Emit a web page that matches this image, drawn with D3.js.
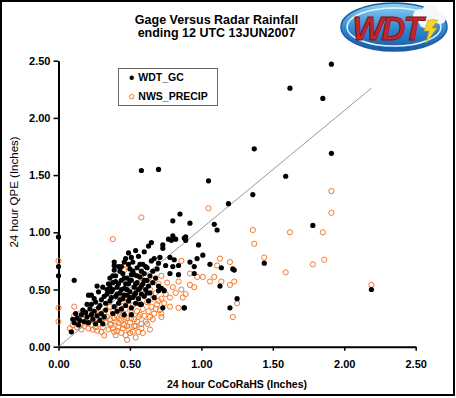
<!DOCTYPE html>
<html>
<head>
<meta charset="utf-8">
<script src="https://cdn.jsdelivr.net/npm/d3@7"></script>
<style>
  html, body { margin: 0; padding: 0; background: #fff; }
  svg { display: block; font-family: Arial, 'Liberation Sans', sans-serif; }
</style>
</head>
<body>
<div id="chart"></div>
<script>
const titleLines = ['Gage Versus Radar Rainfall', 'ending 12 UTC 13JUN2007'];
const xTicks = [0, 0.5, 1, 1.5, 2, 2.5];
const yTicks = [0, 0.5, 1, 1.5, 2, 2.5];
const xTitle = '24 hour CoCoRaHS (Inches)';
const yTitle = '24 hour QPE (Inches)';
const seriesNames = ['WDT_GC', 'NWS_PRECIP'];
const fitLine = [[0, 0], [2.19, 2.26]];

// [CoCoRaHS, QPE] pairs
const wdtGC = [
  [1.91, 2.47], [1.62, 2.26], [1.85, 2.17], [1.37, 1.73], [1.91, 1.69], [1.59, 1.49], [1.36, 1.33],
  [0.58, 1.54], [0.70, 1.55], [1.05, 1.45], [1.19, 1.25], [1.78, 1.06], [1.44, 0.73], [2.19, 0.50],
  [1.22, 0.68], [1.23, 0.67], [1.25, 0.42], [1.20, 0.34],
  [0.92, 1.08], [1.09, 1.07], [1.11, 1.02], [0.89, 0.96], [0.85, 1.16], [0.80, 1.10], [1.01, 0.80],
  [0.97, 0.77], [0.92, 0.74], [0.95, 0.70], [1.06, 0.72], [1.14, 0.69], [0.95, 0.64], [1.13, 0.53],
  [0.88, 0.34], [0.98, 0.89],
  [0.65, 0.91], [0.77, 0.94], [0.80, 0.97], [0.82, 0.94], [0.79, 0.93], [0.88, 0.95], [0.89, 0.93],
  [0.73, 0.89], [0.73, 0.86], [0.49, 0.82], [0.67, 0.77], [0.71, 0.78], [0.78, 0.78], [0.81, 0.76],
  [0.84, 0.71], [0.80, 0.70], [0.75, 0.71], [0.78, 0.64], [0.84, 0.63], [0.66, 0.66], [0.70, 0.73],
  [0.72, 0.51], [0.70, 0.49], [0.74, 0.49], [0.73, 0.34], [0.88, 0.34], [0.57, 0.37], [0.51, 0.28],
  [0, 0.96], [0, 0.70], [0, 0.62], [0.11, 0.58], [0.09, 0.13], [0.39, 0.74], [0.39, 0.71],
  [0.38, 0.62], [0.57, 0.72], [0.58, 0.66],
  [0.11, 0.21], [0.13, 0.25], [0.15, 0.23], [0.16, 0.28], [0.18, 0.22], [0.19, 0.30], [0.20, 0.26],
  [0.21, 0.21], [0.22, 0.33], [0.23, 0.28], [0.24, 0.24], [0.25, 0.31], [0.26, 0.20], [0.27, 0.27],
  [0.28, 0.34], [0.29, 0.23], [0.30, 0.29], [0.31, 0.20], [0.32, 0.26], [0.33, 0.32], [0.14, 0.19],
  [0.17, 0.32], [0.12, 0.29], [0.10, 0.24],
  [0.21, 0.45], [0.23, 0.45], [0.26, 0.39], [0.23, 0.37], [0.20, 0.37], [0.25, 0.42], [0.28, 0.48],
  [0.30, 0.41], [0.31, 0.52], [0.33, 0.38], [0.34, 0.46], [0.29, 0.36], [0.32, 0.44], [0.35, 0.55],
  [0.27, 0.53],
  [0.36, 0.40], [0.37, 0.48], [0.38, 0.56], [0.39, 0.35], [0.40, 0.44], [0.40, 0.62], [0.41, 0.52],
  [0.42, 0.38], [0.42, 0.70], [0.43, 0.47], [0.44, 0.58], [0.44, 0.33], [0.45, 0.42], [0.45, 0.64],
  [0.46, 0.51], [0.47, 0.36], [0.47, 0.77], [0.48, 0.45], [0.48, 0.60], [0.49, 0.55], [0.49, 0.40],
  [0.50, 0.68], [0.50, 0.48], [0.51, 0.34], [0.51, 0.58], [0.52, 0.43], [0.52, 0.74], [0.53, 0.52],
  [0.53, 0.63], [0.54, 0.38], [0.54, 0.47], [0.55, 0.56], [0.55, 0.69], [0.56, 0.42], [0.56, 0.79],
  [0.57, 0.51], [0.57, 0.61], [0.58, 0.46], [0.58, 0.37], [0.59, 0.55], [0.59, 0.72], [0.60, 0.64],
  [0.60, 0.44], [0.61, 0.50], [0.62, 0.58], [0.62, 0.69], [0.63, 0.40], [0.63, 0.53], [0.64, 0.62],
  [0.64, 0.47], [0.65, 0.75], [0.66, 0.56], [0.67, 0.43], [0.68, 0.60], [0.69, 0.68], [0.70, 0.53],
  [0.38, 0.29], [0.41, 0.31], [0.46, 0.28], [0.52, 0.66], [0.43, 0.66], [0.49, 0.72], [0.39, 0.67],
  [0.36, 0.60],
  [0.34, 0.50], [0.36, 0.52], [0.37, 0.43], [0.38, 0.50], [0.40, 0.57], [0.41, 0.46], [0.42, 0.55],
  [0.43, 0.41], [0.44, 0.50], [0.46, 0.45], [0.46, 0.60], [0.47, 0.55], [0.48, 0.50], [0.50, 0.58],
  [0.50, 0.43], [0.51, 0.63], [0.53, 0.45], [0.54, 0.55], [0.55, 0.62], [0.56, 0.50], [0.58, 0.53],
  [0.60, 0.58], [0.61, 0.70], [0.62, 0.47], [0.44, 0.70], [0.46, 0.74], [0.51, 0.78], [0.54, 0.84],
  [0.60, 0.83], [0.63, 0.88]
];

const nwsPrecip = [
  [1.91, 1.36], [1.91, 1.17], [1.05, 1.21], [1.36, 1.02], [1.62, 1.00], [1.85, 1.00], [1.37, 0.90],
  [1.44, 0.78], [1.86, 0.76], [1.78, 0.72], [1.59, 0.65], [2.19, 0.54], [1.20, 0.74], [1.23, 0.57],
  [1.20, 0.54], [1.25, 0.38], [1.22, 0.26], [1.13, 0.77], [1.11, 0.71], [0.92, 0.64], [0.97, 0.61],
  [1.01, 0.61], [1.09, 0.61], [1.06, 0.57], [1.14, 0.57], [0.92, 0.54], [0.95, 0.52], [0.89, 0.46],
  [0.58, 1.13], [0.38, 0.94], [0.47, 0.72], [0.86, 0.75], [0.72, 0.62], [0.84, 0.34], [0.72, 0.29],
  [0.72, 0.26], [0, 0.75], [0, 0.34], [0, 0.22], [0.11, 0.35], [0.46, 0.67],
  [0.08, 0.16], [0.10, 0.19], [0.12, 0.22], [0.13, 0.17], [0.14, 0.25], [0.15, 0.20], [0.16, 0.15],
  [0.17, 0.24], [0.18, 0.18], [0.19, 0.27], [0.20, 0.21], [0.21, 0.16], [0.22, 0.24], [0.23, 0.19],
  [0.24, 0.29], [0.25, 0.22], [0.26, 0.17], [0.27, 0.25], [0.28, 0.20], [0.29, 0.28], [0.30, 0.23],
  [0.31, 0.17], [0.32, 0.30], [0.33, 0.21], [0.34, 0.26], [0.11, 0.27], [0.18, 0.30], [0.26, 0.32],
  [0.32, 0.10], [0.35, 0.15], [0.36, 0.24], [0.37, 0.19], [0.38, 0.31], [0.39, 0.13], [0.40, 0.10],
  [0.40, 0.22], [0.41, 0.27], [0.42, 0.17], [0.43, 0.35], [0.44, 0.12], [0.44, 0.23], [0.45, 0.29],
  [0.46, 0.19], [0.47, 0.10], [0.47, 0.33], [0.48, 0.25], [0.49, 0.15], [0.49, 0.40], [0.50, 0.21],
  [0.51, 0.30], [0.52, 0.13], [0.52, 0.36], [0.53, 0.24], [0.54, 0.18], [0.54, 0.44], [0.55, 0.31],
  [0.56, 0.13], [0.56, 0.26], [0.57, 0.38], [0.58, 0.20], [0.58, 0.16], [0.59, 0.33], [0.60, 0.27],
  [0.60, 0.46], [0.61, 0.22], [0.62, 0.39], [0.63, 0.31], [0.64, 0.26], [0.64, 0.50], [0.65, 0.35],
  [0.66, 0.42], [0.67, 0.29], [0.68, 0.47], [0.69, 0.37], [0.70, 0.55], [0.71, 0.32], [0.72, 0.42],
  [0.73, 0.50], [0.74, 0.38], [0.75, 0.46], [0.76, 0.56], [0.78, 0.43], [0.80, 0.52], [0.82, 0.47],
  [0.84, 0.57], [0.86, 0.50], [0.87, 0.43], [0.78, 0.35], [0.66, 0.58], [0.62, 0.55], [0.55, 0.50],
  [0.45, 0.40], [0.36, 0.35], [0.42, 0.45], [0.50, 0.52], [0.58, 0.60], [0.54, 0.08], [0.48, 0.06],
  [0.36, 0.20], [0.38, 0.16], [0.39, 0.25], [0.41, 0.14], [0.42, 0.21], [0.43, 0.28], [0.45, 0.16],
  [0.46, 0.24], [0.48, 0.18], [0.50, 0.12], [0.51, 0.25], [0.53, 0.18], [0.55, 0.22], [0.57, 0.28],
  [0.59, 0.12], [0.62, 0.20], [0.64, 0.15], [0.66, 0.24], [0.68, 0.33], [0.70, 0.40], [0.30, 0.13],
  [0.27, 0.14], [0.24, 0.15], [0.19, 0.22], [0.15, 0.29]
];

const width = 456;
const height = 398;

const svg = d3.select('#chart')
    .append('svg')
    .attr('width', width)
    .attr('height', height);

svg.append('rect')
    .attr('x', 1)
    .attr('y', 1)
    .attr('width', 453)
    .attr('height', 394)
    .attr('fill', '#fff')
    .attr('stroke', '#000')
    .attr('stroke-width', 2);

const x = d3.scaleLinear().domain([0, 2.5]).range([58.5, 415.7]);
const y = d3.scaleLinear().domain([0, 2.5]).range([346.7, 60.7]);

// title
svg.append('g')
    .selectAll('text')
    .data(titleLines)
    .enter().append('text')
    .attr('x', 216.5)
    .attr('y', (d, i) => 24 + i * 13)
    .attr('text-anchor', 'middle')
    .attr('font-size', '12.5px')
    .attr('font-weight', 'bold')
    .text(d => d);

// logo
const defs = svg.append('defs');
const grad = defs.append('linearGradient')
    .attr('id', 'logoGrad')
    .attr('x1', 0).attr('y1', 0).attr('x2', 0).attr('y2', 1);
grad.append('stop').attr('offset', '0%').attr('stop-color', '#8fd3f7');
grad.append('stop').attr('offset', '55%').attr('stop-color', '#2f86d0');
grad.append('stop').attr('offset', '100%').attr('stop-color', '#1a5aa3');

const logo = svg.append('g');
logo.append('ellipse')
    .attr('cx', 394).attr('cy', 27).attr('rx', 53).attr('ry', 24)
    .attr('fill', 'url(#logoGrad)')
    .attr('stroke', '#1b5ea6')
    .attr('stroke-width', 1.5);
logo.append('ellipse')
    .attr('cx', 394).attr('cy', 27).attr('rx', 47).attr('ry', 19)
    .attr('fill', 'none')
    .attr('stroke', '#e6f4fc')
    .attr('stroke-width', 1.5);
[[420, 16, 7], [430, 12, 8], [440, 18, 6], [425, 22, 6]].forEach(c => {
  logo.append('circle')
      .attr('cx', c[0]).attr('cy', c[1]).attr('r', c[2])
      .attr('fill', '#f4f8fb');
});
logo.append('text')
    .attr('x', 387)
    .attr('y', 40)
    .attr('text-anchor', 'middle')
    .attr('font-size', '33px')
    .attr('font-weight', 'bold')
    .attr('font-style', 'italic')
    .attr('fill', '#c4262e')
    .attr('stroke', '#7a1218')
    .attr('stroke-width', 0.8)
    .attr('letter-spacing', '-2px')
    .text('WDT');
logo.append('path')
    .attr('d', 'M428,20 L438,20 L432,28 L437,28 L426,43 L429,31 L424,31 Z')
    .attr('fill', '#f5d327')
    .attr('stroke', '#c9a400')
    .attr('stroke-width', 0.5);

// axes
const yAxis = svg.append('g')
    .attr('transform', 'translate(58.5,0)')
    .call(d3.axisLeft(y).tickValues(yTicks).tickFormat(d3.format('.2f'))
        .tickSize(5).tickSizeOuter(0).tickPadding(3));

const xAxis = svg.append('g')
    .attr('transform', 'translate(0,346.7)')
    .call(d3.axisBottom(x).tickValues(xTicks).tickFormat(d3.format('.2f'))
        .tickSize(4).tickSizeOuter(0).tickPadding(10));

[yAxis, xAxis].forEach(a => {
  a.attr('font-family', null).attr('font-size', null);
  a.select('.domain').attr('stroke', '#000').attr('stroke-width', 2);
  a.selectAll('.tick line').attr('stroke', '#000').attr('stroke-width', 1.5);
  a.selectAll('.tick text')
      .attr('fill', '#000')
      .attr('font-size', '11px')
      .attr('font-weight', 'bold');
});

svg.append('text')
    .attr('x', 237)
    .attr('y', 388)
    .attr('text-anchor', 'middle')
    .attr('font-size', '10.5px')
    .attr('font-weight', 'bold')
    .text(xTitle);

svg.append('text')
    .attr('transform', 'translate(18,192) rotate(-90)')
    .attr('text-anchor', 'middle')
    .attr('font-size', '11.5px')
    .text(yTitle);

// fit line
svg.append('line')
    .attr('x1', x(fitLine[0][0]))
    .attr('y1', y(fitLine[0][1]))
    .attr('x2', x(fitLine[1][0]))
    .attr('y2', y(fitLine[1][1]))
    .attr('stroke', '#999')
    .attr('stroke-width', 1);

// points
svg.append('g')
    .selectAll('circle')
    .data(nwsPrecip)
    .enter().append('circle')
    .attr('cx', d => x(d[0]))
    .attr('cy', d => y(d[1]))
    .attr('r', 2.6)
    .attr('fill', 'none')
    .attr('stroke', '#f27a2e')
    .attr('stroke-width', 1);

svg.append('g')
    .selectAll('circle')
    .data(wdtGC)
    .enter().append('circle')
    .attr('cx', d => x(d[0]))
    .attr('cy', d => y(d[1]))
    .attr('r', 2.6)
    .attr('fill', '#000');

// legend
svg.append('rect')
    .attr('x', 118.5)
    .attr('y', 68.5)
    .attr('width', 99)
    .attr('height', 37)
    .attr('fill', '#fff')
    .attr('stroke', '#666')
    .attr('stroke-width', 1);

const legend = svg.selectAll('.legend')
    .data(seriesNames)
    .enter().append('g')
    .attr('class', 'legend')
    .attr('transform', (d, i) => 'translate(0,' + (77.7 + i * 19) + ')');

legend.append('circle')
    .attr('cx', 131.7)
    .attr('cy', 0)
    .attr('r', 2.2)
    .attr('fill', (d, i) => i === 0 ? '#000' : 'none')
    .attr('stroke', (d, i) => i === 0 ? 'none' : '#f27a2e')
    .attr('stroke-width', 1);

legend.append('text')
    .attr('x', 138.3)
    .attr('y', 0)
    .attr('dy', '.36em')
    .attr('font-size', '10.5px')
    .attr('font-weight', 'bold')
    .text(d => d);
</script>
</body>
</html>
